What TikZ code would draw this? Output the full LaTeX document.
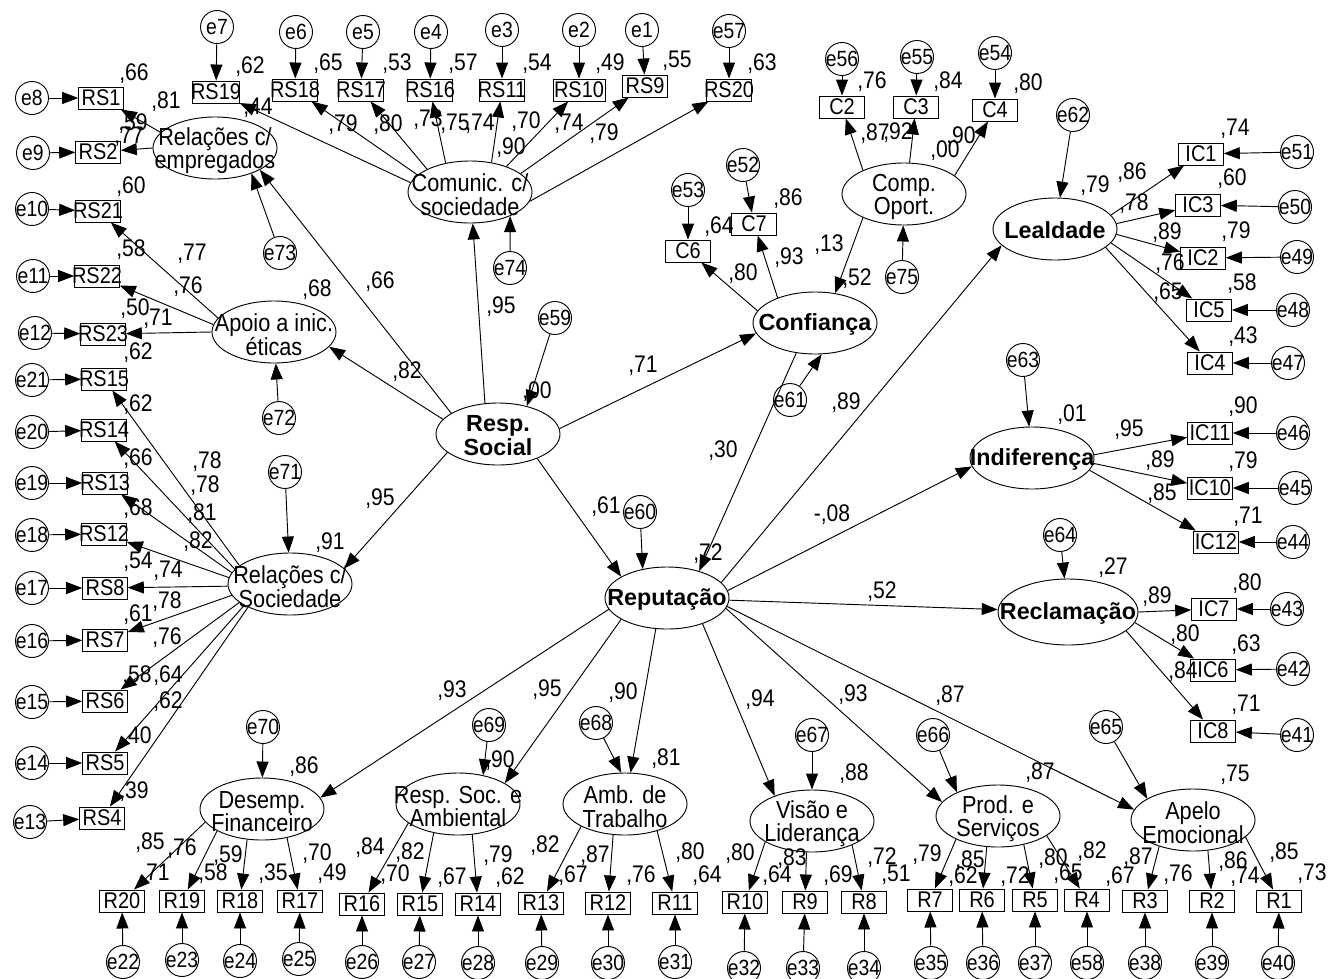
\documentclass[tikz,border=0pt]{standalone}
\usepackage{fontspec}
\setmainfont{Liberation Sans}
\newfontfamily\nar{Liberation Sans}[FakeStretch=0.88]
\usetikzlibrary{arrows.meta,shapes.geometric}
\newcommand{\zb}[1]{\makebox[0pt]{#1}}
\begin{document}
\begin{tikzpicture}[x=0.75pt,y=-0.75pt,
 ind/.style={draw, rectangle, line width=0.7pt, inner sep=0pt, minimum width=33.5pt, minimum height=16.5pt, font=\nar\fontsize{17}{17}\selectfont},
 err/.style={draw, circle, line width=0.7pt, inner sep=0pt, minimum size=24.75pt, font=\nar\fontsize{16.5}{16.5}\selectfont},
 lat/.style={draw, ellipse, line width=0.7pt, inner sep=0pt, minimum width=93pt, minimum height=46.5pt},
 ltxt/.style={align=center, inner sep=0pt, yshift=-2pt, font=\nar\fontsize{18.5}{17.5}\selectfont},
 btxt/.style={align=center, inner sep=0pt, yshift=-1pt, font=\fontsize{17.5}{18}\selectfont\bfseries},
 num/.style={inner sep=0pt, text height=12.9pt, text depth=0pt, font=\nar\fontsize{18}{18}\selectfont},
 arr/.style={line width=0.7pt, -{Triangle[length=12pt,width=9pt]}}
]
\fill[white] (0,0) rectangle (1338,978);
\useasboundingbox (0,0) rectangle (1338,978);

% latent variables
\node[lat] (remp) at (215,148) {};
\node[ltxt] (remp-t) at (remp) {Relações c/\\empregados};
\node[lat] (comm) at (470,192) {};
\node[ltxt] (comm-t) at (comm) {Comunic. c/\\sociedade};
\node[lat] (apoio) at (274,332) {};
\node[ltxt] (apoio-t) at (apoio) {Apoio a inic.\\éticas};
\node[lat] (relsoc) at (290,584) {};
\node[ltxt] (relsoc-t) at (relsoc) {Relações c/\\Sociedade};
\node[lat] (rsoc) at (498,434) {};
\node[btxt] (rsoc-t) at (rsoc) {Resp.\\Social};
\node[lat] (conf) at (815,323) {};
\node[btxt] (conf-t) at (conf) {Confiança};
\node[lat] (comp) at (904,194) {};
\node[ltxt] (comp-t) at (comp) {Comp.\\Oport.};
\node[lat] (leal) at (1055,229) {};
\node[btxt] (leal-t) at (leal) {Lealdade};
\node[lat] (ind) at (1032,458) {};
\node[btxt] (ind-t) at (ind) {Indiferença};
\node[lat, minimum width=105pt, minimum height=49.5pt] (rec) at (1068,612) {};
\node[btxt] (rec-t) at (rec) {Reclamação};
\node[lat] (rep) at (667,598) {};
\node[btxt] (rep-t) at (rep) {Reputação};
\node[lat] (des) at (262,809) {};
\node[ltxt] (des-t) at (des) {Desemp.\\Financeiro};
\node[lat] (rsa) at (458,804) {};
\node[ltxt] (rsa-t) at (rsa) {Resp. Soc. e\\Ambiental};
\node[lat] (amb) at (625,804) {};
\node[ltxt] (amb-t) at (amb) {Amb. de\\Trabalho};
\node[lat] (vis) at (812,821) {};
\node[ltxt] (vis-t) at (vis) {Visão e\\Liderança};
\node[lat] (prod) at (998,816) {};
\node[ltxt] (prod-t) at (prod) {Prod. e\\Serviços};
\node[lat] (apelo) at (1193,820) {};
\node[ltxt] (apelo-t) at (apelo) {Apelo\\Emocional};

% indicators
\node[ind, minimum width=35pt] (rs19) at (216,92) {\zb{RS19}};
\node[ind, minimum width=39pt] (rs10) at (579,90) {\zb{RS10}};
\foreach \n/\lb/\x/\y in {rs18/RS18/295/90, rs17/RS17/361/90, rs16/RS16/430/90, rs11/RS11/502/90, rs9/RS9/645/86, rs20/RS20/729/90,
 rs1/RS1/101/98, rs2/RS2/98/152, rs21/RS21/98/211, rs22/RS22/97/276, rs23/RS23/103/334,
 rs15/RS15/104/379, rs14/RS14/104/430, rs13/RS13/105/483, rs12/RS12/104/534, rs8/RS8/105/588, rs7/RS7/105/640, rs6/RS6/105/701, rs5/RS5/105/763, rs4/RS4/102/818,
 c6/C6/688/251, c7/C7/754/224, c2/C2/842/107, c3/C3/916/107, c4/C4/995/110,
 ic1/IC1/1201/154, ic3/IC3/1198/205, ic2/IC2/1203/258, ic5/IC5/1209/310, ic4/IC4/1210/363,
 ic11/IC11/1210/433, ic10/IC10/1210/488, ic12/IC12/1216/542,
 ic7/IC7/1214/609, ic6/IC6/1213/670, ic8/IC8/1213/731,
 r20/R20/122/901, r19/R19/182/901, r18/R18/240/901, r17/R17/300/901,
 r16/R16/362/904, r15/R15/420/904, r14/R14/478/904,
 r13/R13/541/903, r12/R12/608/903, r11/R11/675/903,
 r10/R10/745/902, r9/R9/805/902, r8/R8/864/902,
 r7/R7/930/900, r6/R6/982/900, r5/R5/1035/900, r4/R4/1087/900,
 r3/R3/1145/901, r2/R2/1212/901, r1/R1/1279/901}
 \node[ind] (\n) at (\x,\y) {\zb{\lb}};

% error terms
\foreach \n/\x/\y in {e7/217/27, e6/296/32, e5/363/32, e4/431/32, e3/502/30, e2/579/30, e1/642/30, e57/729/31,
 e56/842/59, e55/917/57, e54/995/53, e62/1073/115,
 e8/32/98, e9/33/153, e10/32/209, e11/33/276, e12/35/333,
 e21/32/380, e20/32/432, e19/32/483, e18/32/535, e17/32/588, e16/32/641, e15/32/702, e14/32/763, e13/30/822,
 e73/280/253, e72/279/418, e71/285/472, e74/510/268, e59/555/318, e53/688/190, e52/743/165, e75/902/277, e61/790/400, e60/640/512,
 e51/1297/152, e50/1295/207, e49/1297/257, e48/1293/310, e47/1288/363,
 e63/1023/360, e46/1293/433, e45/1295/488, e44/1293/542,
 e64/1060/535, e43/1287/609, e42/1293/669, e41/1297/735,
 e70/263/727, e69/489/725, e68/596/723, e67/812/735, e66/933/735, e65/1106/727,
 e22/123/962, e23/182/960, e24/240/961, e25/299/959, e26/362/962, e27/419/962, e28/478/963,
 e29/542/963, e30/608/963, e31/675/962, e32/744/968, e33/803/968, e34/864/968,
 e35/931/963, e36/983/963, e37/1035/963, e58/1087/963, e38/1145/963, e39/1212/963, e40/1278/963}
 \node[err] (\n) at (\x,\y) {\zb{\n}};

% error arrows
\foreach \a/\b in {e7/rs19, e6/rs18, e5/rs17, e4/rs16, e3/rs11, e2/rs10, e1/rs9, e57/rs20,
 e8/rs1, e9/rs2, e10/rs21, e11/rs22, e12/rs23, e21/rs15, e20/rs14, e19/rs13, e18/rs12, e17/rs8, e16/rs7, e15/rs6, e14/rs5, e13/rs4,
 e53/c6, e52/c7, e56/c2, e55/c3, e54/c4,
 e51/ic1, e50/ic3, e49/ic2, e48/ic5, e47/ic4, e46/ic11, e45/ic10, e44/ic12, e43/ic7, e42/ic6, e41/ic8,
 e22/r20, e23/r19, e24/r18, e25/r17, e26/r16, e27/r15, e28/r14, e29/r13, e30/r12, e31/r11,
 e32/r10, e33/r9, e34/r8, e35/r7, e36/r6, e37/r5, e58/r4, e38/r3, e39/r2, e40/r1,
 e73/remp.325, e72/apoio, e71/relsoc, e74/comm.329, e59/rsoc.44, e75/comp, e61/conf.282, e60/rep.130,
 e62/leal, e63/ind, e64/rec, e70/des, e69/rsa.49, e68/amb.97, e67/vis, e66/prod.150, e65/apelo.155}
 \draw[arr] (\a) -- (\b);

% loadings
\foreach \a/\b in {remp.164/rs1, remp.180/rs2,
 apoio.166/rs21, apoio.173/rs22, apoio.180/rs23,
 relsoc.160/rs15, relsoc.165/rs14, relsoc.169/rs13, relsoc.174/rs12, relsoc.182/rs8, relsoc.191/rs7, relsoc.200/rs6, relsoc.205/rs5, relsoc.209/rs4,
 comm.171/rs19, comm.162/rs18, comm.152/rs17, comm.130/rs16, comm.54/rs11, comm.35/rs10, comm.20/rs9, comm.351/rs20,
 conf.168/c6, conf.146/c7, comp.150/c2, comp.80/c3, comp.20/c4,
 leal.14/ic1, leal.5/ic3, leal.355/ic2, leal.346/ic5, leal.340/ic4,
 ind.3/ic11, ind.355/ic10, ind.348/ic12,
 rec.0/ic7, rec.351/ic6, rec.342/ic8,
 des.193/r20, des.206/r19, des.244/r18, des.311/r17,
 rsa.201/r16, rsa.230/r15, rsa.295/r14,
 amb.207/r13, amb.249/r12, amb.320/r11,
 vis.204/r10, vis.260/r9, vis.329/r8,
 prod.209/r7, prod.250/r6, prod.312/r5, prod.338/r4,
 apelo.218/r3, apelo.296/r2, apelo.342/r1}
 \draw[arr] (\a) -- (\b);

% structural paths
\foreach \a/\b in {rsoc.156/remp.334, rsoc.113/comm.275, rsoc.165/apoio.345, rsoc.200/relsoc.16,
 rsoc.5/conf.190, rsoc.328/rep.155, comp.210/conf.56, conf.238/rep.40,
 rep.16/leal.197, rep.7/ind.188, rep/rec, rep.191/des.11, rep.205/rsa.24, rep.250/amb.80,
 rep.324/vis.146, rep.350/prod.166, rep.352/apelo.170}
 \draw[arr] (\a) -- (\b);

% coefficients
\foreach \lb/\x/\y [count=\i] in {{,62}/250/65, {,65}/328/62, {,53}/397/62, {,57}/463/62, {,54}/537/62, {,49}/610/62, {,55}/677/59, {,63}/762/62,
 {,44}/258/106, {,79}/343/123, {,80}/388/123, {,73}/428/118, {,75}/455/122, {,74}/480/122, {,70}/526/120, {,90}/511/146, {,74}/569/122, {,79}/604/132,
 {,66}/134/72, {,81}/166/100, {,59}/133/122, {,77}/129/135, {,60}/131/185, {,58}/131/248, {,77}/192/252, {,76}/188/285, {,68}/317/288, {,66}/380/280, {,50}/135/307, {,71}/158/317,
 {,62}/138/351, {,82}/407/370, {,62}/138/403, {,66}/138/457, {,68}/138/507, {,54}/138/560, {,61}/138/613,
 {,78}/207/460, {,78}/205/484, {,81}/202/512, {,82}/198/540, {,74}/168/569, {,78}/167/600, {,76}/167/636,
 {,95}/380/497, {,91}/330/541,
 {,58}/137/674, {,64}/168/674, {,62}/168/700, {,40}/137/735, {,39}/134/790,
 {,95}/501/305, {,00}/537/390, {,71}/643/364, {,61}/606/505, {,30}/723/449, {,72}/708/552, {,89}/846/401, {-,08}/832/513, {,52}/882/590,
 {,64}/719/225, {,86}/788/197, {,80}/743/272, {,93}/789/256, {,13}/829/243, {,52}/857/277,
 {,76}/872/80, {,84}/948/80, {,80}/1028/82, {,87}/875/132, {,92}/898/131, {,00}/945/149, {,90}/961/135,
 {,79}/1095/184, {,74}/1235/127, {,86}/1132/171, {,78}/1134/202, {,60}/1232/177, {,89}/1167/231, {,79}/1236/230, {,76}/1170/262, {,65}/1168/291, {,58}/1242/282, {,43}/1243/335,
 {,01}/1072/413, {,90}/1243/405, {,95}/1129/428, {,89}/1160/459, {,79}/1243/460, {,85}/1162/492, {,71}/1248/515,
 {,27}/1113/566, {,89}/1157/595, {,80}/1247/582, {,80}/1185/633, {,84}/1183/670, {,63}/1246/643, {,71}/1246/703,
 {,93}/452/689, {,95}/547/688, {,90}/623/691, {,94}/760/698, {,93}/853/693, {,87}/950/694,
 {,86}/304/765, {,90}/500/759, {,81}/666/757, {,88}/854/772, {,87}/1040/771, {,75}/1235/773,
 {,85}/150/841, {,76}/182/847, {,71}/155/872, {,59}/228/854, {,58}/213/872, {,35}/273/872, {,70}/317/852, {,49}/332/872,
 {,84}/370/846, {,82}/410/851, {,70}/395/873, {,67}/452/876, {,79}/498/854, {,62}/510/876,
 {,82}/545/844, {,87}/595/854, {,67}/573/874, {,76}/641/874, {,80}/690/851, {,64}/707/874,
 {,80}/740/852, {,83}/792/857, {,64}/777/874, {,69}/838/874, {,72}/882/856, {,51}/896/873,
 {,79}/927/853, {,85}/970/859, {,62}/963/875, {,72}/1015/875, {,80}/1053/857, {,82}/1092/850, {,65}/1068/872,
 {,67}/1120/875, {,87}/1138/856, {,76}/1178/873, {,86}/1233/860, {,74}/1245/875, {,85}/1284/851, {,73}/1312/872}
 \node[num] (n\i) at (\x,\y) {\lb};
\end{tikzpicture}
\end{document}
